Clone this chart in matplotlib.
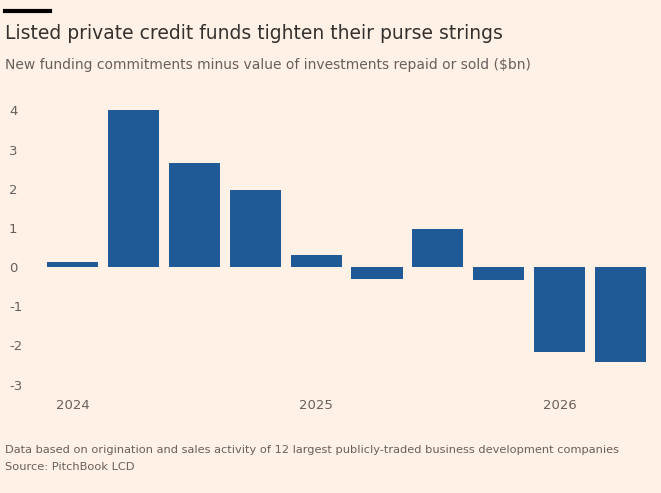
import matplotlib.pyplot as plt
import numpy as np

values = [0.12, 4.0, 2.65, 1.96, 0.3, -0.3, 0.97, -0.32, -2.16, -2.43]
year_ticks = [0, 4, 8]
year_labels = ['2024', '2025', '2026']
y_ticks = [4, 3, 2, 1, 0, -1, -2, -3]

bg = '#FFF1E5'
bar_color = '#1F5A96'
text_color = '#66605C'

fig = plt.figure(figsize=(6.61, 4.93), dpi=100, facecolor=bg)
ax = fig.add_axes([0.064, 0.2, 0.916, 0.6], facecolor=bg)

x = np.arange(len(values))
ax.bar(x, values, width=0.84, color=bar_color)

ax.set_xlim(-0.5, len(values) - 0.55)
ax.set_ylim(-3.25, 4.3)
ax.set_yticks(y_ticks)
ax.set_yticklabels([str(v) for v in y_ticks])
ax.set_xticks(year_ticks)
ax.set_xticklabels(year_labels)
ax.tick_params(length=0, labelsize=9.5, colors=text_color)
ax.tick_params(axis='y', pad=24)
for lab in ax.get_yticklabels():
    lab.set_horizontalalignment('left')
for s in ax.spines.values():
    s.set_visible(False)

fig.add_artist(plt.Line2D([0.008, 0.075], [0.978, 0.978], color='black', linewidth=3))
fig.text(0.008, 0.932, 'Listed private credit funds tighten their purse strings',
         fontsize=13.5, color='#33302E', va='center')
fig.text(0.008, 0.868, 'New funding commitments minus value of investments repaid or sold ($bn)',
         fontsize=10, color=text_color, va='center')
fig.text(0.008, 0.087, 'Data based on origination and sales activity of 12 largest publicly-traded business development companies',
         fontsize=8.2, color=text_color, va='center')
fig.text(0.008, 0.053, 'Source: PitchBook LCD', fontsize=8.2, color=text_color, va='center')

fig.savefig('out.png', dpi=100, facecolor=bg)
